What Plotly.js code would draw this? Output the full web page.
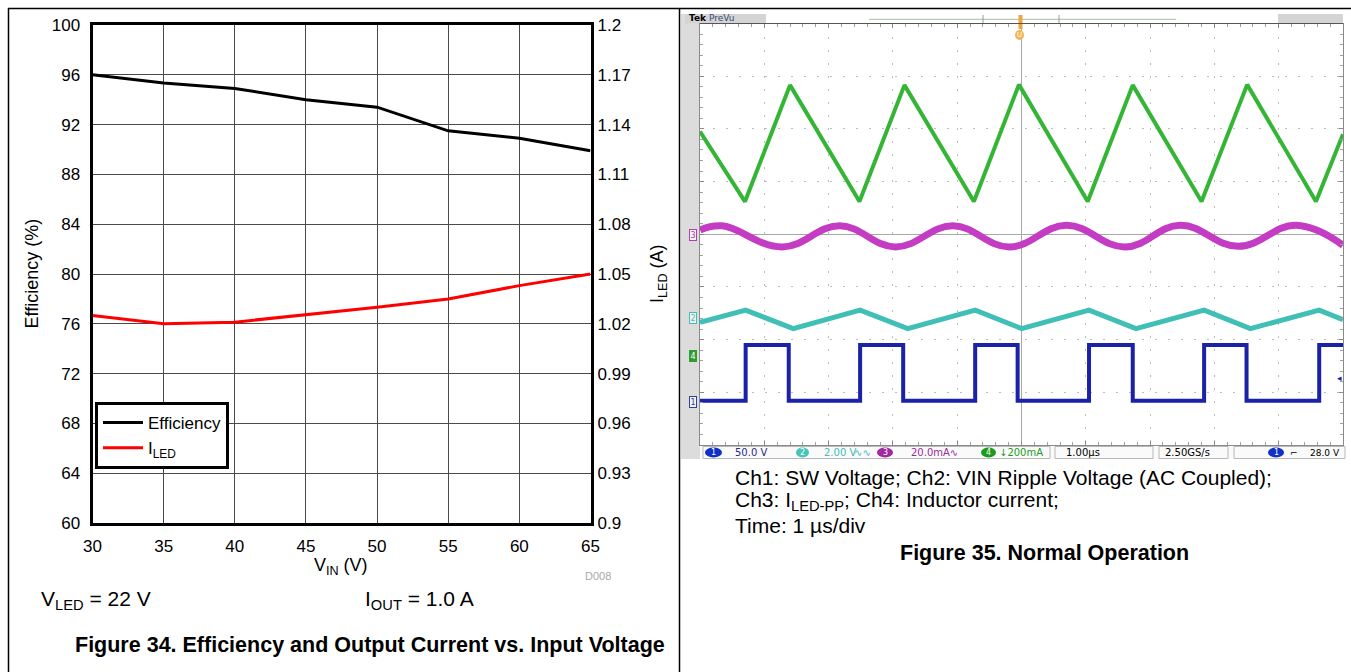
<!DOCTYPE html>
<html>
<head>
<meta charset="utf-8">
<script src="https://cdn.plot.ly/plotly-3.0.1.min.js"></script>
<style>html,body{margin:0;padding:0;background:#fff;}#chart{width:1351px;height:672px;}</style>
</head>
<body>
<div id="chart"></div>
<script>
// ---- Figure 34 data ----
const vin = [30, 35, 40, 45, 50, 55, 60, 65];
const efficiency = [96.0, 95.35, 94.9, 94.0, 93.4, 91.5, 90.9, 89.9];
const iledA = [1.025, 1.020, 1.021, 1.0255, 1.030, 1.035, 1.043, 1.050];
const iledTickVals = [0.9, 0.93, 0.96, 0.99, 1.02, 1.05, 1.08, 1.11, 1.14, 1.17, 1.2];
const iledTickLabels = ['0.9', '0.93', '0.96', '0.99', '1.02', '1.05', '1.08', '1.11', '1.14', '1.17', '1.2'];

// ---- Figure 35 scope data (time in µs, level in divisions) ----
const ch1Time = [-5.0, -4.29, -3.62, -2.51, -1.84, -0.72, -0.06, 1.05, 1.73, 2.84, 3.50, 4.63, 5.0];
const ch1Level = [-3.16, -2.10, -3.16, -2.10, -3.16, -2.10, -3.16, -2.10, -3.16, -2.10, -3.16, -2.10, -2.10];
const ch2Time = [-5.0, -4.29, -3.55, -2.51, -1.77, -0.72, 0.0, 1.05, 1.78, 2.84, 3.56, 4.63, 5.0];
const ch2Level = [-1.67, -1.44, -1.79, -1.44, -1.79, -1.44, -1.79, -1.44, -1.79, -1.44, -1.79, -1.44, -1.62];
const ch3Time = [-5.0, -4.66, -3.72, -2.83, -1.96, -1.07, -0.19, 0.70, 1.61, 2.47, 3.37, 4.27, 5.0];
const ch3Level = [0.08, 0.16, -0.24, 0.16, -0.24, 0.16, -0.24, 0.17, -0.24, 0.17, -0.23, 0.17, -0.21];
const ch4Time = [-5.0, -4.30, -3.60, -2.52, -1.82, -0.74, -0.04, 1.03, 1.73, 2.80, 3.51, 4.58, 5.0];
const ch4Level = [1.95, 0.62, 2.83, 0.62, 2.83, 0.62, 2.84, 0.62, 2.83, 0.62, 2.84, 0.62, 1.9];

const W = 1351, H = 672;
const px = x => x / W;
const py = y => 1 - y / H;
const SANS = 'Liberation Sans, Arial, sans-serif';
const SCOPE = 'DejaVu Sans, sans-serif';

const traces = [
  {x: vin, y: efficiency, name: 'Efficiency', mode: 'lines', xaxis: 'x', yaxis: 'y',
   line: {color: '#000000', width: 3}},
  {x: vin, y: iledA, name: 'I<sub>LED</sub>', mode: 'lines', xaxis: 'x', yaxis: 'y2',
   line: {color: '#ff0000', width: 3}},
  {x: ch4Time, y: ch4Level, mode: 'lines', xaxis: 'x3', yaxis: 'y3', showlegend: false,
   line: {color: '#35b535', width: 4}},
  {x: ch3Time, y: ch3Level, mode: 'lines', xaxis: 'x3', yaxis: 'y3', showlegend: false,
   line: {color: '#c43cc4', width: 7, shape: 'spline', smoothing: 1.2}},
  {x: ch2Time, y: ch2Level, mode: 'lines', xaxis: 'x3', yaxis: 'y3', showlegend: false,
   line: {color: '#3fbfb6', width: 5}},
  {x: ch1Time, y: ch1Level, mode: 'lines', xaxis: 'x3', yaxis: 'y3', showlegend: false,
   line: {color: '#1a22a8', width: 4, shape: 'hv'}}
];

const leftAxisCommon = {
  showgrid: true, gridcolor: '#4a4a4a', gridwidth: 1,
  showline: true, linecolor: '#000', linewidth: 3, mirror: true,
  ticks: '', zeroline: false, fixedrange: true,
  tickfont: {family: SANS, size: 17, color: '#000'}
};

const scopeCenterY = (py(445) + py(23.5)) / 2;
const scopeCenterX = (px(700) + px(1343)) / 2;

const layout = {
  width: W, height: H, autosize: false,
  margin: {l: 0, r: 0, t: 0, b: 0},
  paper_bgcolor: '#fff', plot_bgcolor: 'rgba(0,0,0,0)',
  font: {family: SANS, color: '#000'},
  showlegend: true,
  legend: {
    x: px(95), y: py(402), xanchor: 'left', yanchor: 'top',
    bgcolor: '#fff', bordercolor: '#000', borderwidth: 3,
    font: {family: SANS, size: 17, color: '#000'},
    itemwidth: 40, tracegroupgap: 0
  },
  xaxis: Object.assign({}, leftAxisCommon, {
    domain: [px(92.5), px(590.5)], range: [30, 65], dtick: 5, tick0: 30, anchor: 'y',
    ticklabelstandoff: 6
  }),
  yaxis: Object.assign({}, leftAxisCommon, {
    domain: [py(523), py(25)], range: [60, 100], dtick: 4, tick0: 60, anchor: 'x',
    ticklabelstandoff: 6
  }),
  yaxis2: {
    overlaying: 'y', side: 'right', anchor: 'x', range: [0.9, 1.2],
    tickmode: 'array', tickvals: iledTickVals, ticktext: iledTickLabels,
    showgrid: false, showline: false, zeroline: false, ticks: '', fixedrange: true,
    ticklabelstandoff: 6,
    tickfont: {family: SANS, size: 17, color: '#000'}
  },
  xaxis3: {
    domain: [px(700), px(1343)], range: [-5, 5], anchor: 'y3', dtick: 1, tick0: 0,
    showgrid: true, gridcolor: '#bdbdbd', griddash: '2px,11px', gridwidth: 1,
    zeroline: true, zerolinecolor: '#a8a8a8', zerolinewidth: 1,
    showline: true, linecolor: '#8a8a8a', linewidth: 1, mirror: 'allticks',
    ticks: 'inside', ticklen: 4, tickcolor: '#8a8a8a',
    minor: {dtick: 0.2, ticks: 'inside', ticklen: 3, tickcolor: '#a0a0a0'},
    showticklabels: false, fixedrange: true
  },
  yaxis3: {
    domain: [py(445), py(23.5)], range: [-4, 4], anchor: 'x3', dtick: 1, tick0: 0,
    showgrid: true, gridcolor: '#bdbdbd', griddash: '2px,11px', gridwidth: 1,
    zeroline: true, zerolinecolor: '#a8a8a8', zerolinewidth: 1,
    showline: true, linecolor: '#8a8a8a', linewidth: 1, mirror: 'allticks',
    ticks: 'inside', ticklen: 4, tickcolor: '#8a8a8a',
    minor: {dtick: 0.2, ticks: 'inside', ticklen: 3, tickcolor: '#a0a0a0'},
    showticklabels: false, fixedrange: true
  },
  xaxis4: {overlaying: 'x3', anchor: 'free', position: scopeCenterY, range: [-5, 5], dtick: 0.2, tick0: 0,
    showgrid: false, zeroline: false, showline: false, ticks: 'inside', ticklen: 3, tickcolor: '#a0a0a0', showticklabels: false, fixedrange: true},
  xaxis5: {overlaying: 'x3', anchor: 'free', position: scopeCenterY, range: [-5, 5], dtick: 0.2, tick0: 0,
    showgrid: false, zeroline: false, showline: false, ticks: 'outside', ticklen: 3, tickcolor: '#a0a0a0', showticklabels: false, fixedrange: true},
  yaxis4: {overlaying: 'y3', anchor: 'free', position: scopeCenterX, range: [-4, 4], dtick: 0.2, tick0: 0,
    showgrid: false, zeroline: false, showline: false, ticks: 'inside', ticklen: 3, tickcolor: '#a0a0a0', showticklabels: false, fixedrange: true},
  yaxis5: {overlaying: 'y3', anchor: 'free', position: scopeCenterX, range: [-4, 4], dtick: 0.2, tick0: 0,
    showgrid: false, zeroline: false, showline: false, ticks: 'outside', ticklen: 3, tickcolor: '#a0a0a0', showticklabels: false, fixedrange: true},
  shapes: [],
  annotations: []
};

const S = layout.shapes, A = layout.annotations;
function line(x0, y0, x1, y1, color, width) {
  S.push({type: 'line', xref: 'paper', yref: 'paper', x0: px(x0), y0: py(y0), x1: px(x1), y1: py(y1),
          line: {color: color, width: width}, layer: 'above'});
}
function rect(x0, y0, x1, y1, fill, lineColor, layer) {
  S.push({type: 'rect', xref: 'paper', yref: 'paper', x0: px(x0), y0: py(y0), x1: px(x1), y1: py(y1),
          fillcolor: fill, line: {color: lineColor || 'rgba(0,0,0,0)', width: lineColor ? 1 : 0}, layer: layer || 'below'});
}
function oval(x0, y0, x1, y1, fill) {
  S.push({type: 'circle', xref: 'paper', yref: 'paper', x0: px(x0), y0: py(y0), x1: px(x1), y1: py(y1),
          fillcolor: fill, line: {width: 0}, layer: 'above'});
}
function text(t, x, y, opts) {
  A.push(Object.assign({text: t, xref: 'paper', yref: 'paper', x: px(x), y: py(y), showarrow: false,
    xanchor: 'center', yanchor: 'middle', font: {family: SANS, size: 17, color: '#000'}}, opts || {}));
}

// page frame
line(8, 8.5, 1351, 8.5, '#000', 1.5);
line(8.5, 8, 8.5, 672, '#000', 1.5);
line(679.5, 8, 679.5, 672, '#000', 1.5);

// ---- Figure 34 texts ----
text('Efficiency (%)', 31.5, 274, {textangle: -90, font: {family: SANS, size: 18, color: '#000'}});
text('I<sub>LED</sub> (A)', 658, 274, {textangle: -90, font: {family: SANS, size: 18, color: '#000'}});
text('V<sub>IN</sub> (V)', 341, 566, {font: {family: SANS, size: 18, color: '#000'}});
text('D008', 598, 576, {font: {family: SANS, size: 11, color: '#a8a8a8'}});
text('V<sub>LED</sub> = 22 V', 39, 600, {xanchor: 'left', font: {family: SANS, size: 21, color: '#000'}});
text('I<sub>OUT</sub> = 1.0 A', 363, 600, {xanchor: 'left', font: {family: SANS, size: 21, color: '#000'}});
text('<b>Figure 34. Efficiency and Output Current vs. Input Voltage</b>', 370, 645, {font: {family: SANS, size: 21.5, color: '#000'}});

// ---- Figure 35 captions ----
const cap = {xanchor: 'left', font: {family: SANS, size: 21, color: '#000'}};
text('Ch1: SW Voltage; Ch2: VIN Ripple Voltage (AC Coupled);', 733, 477, cap);
text('Ch3: I<sub>LED-PP</sub>; Ch4: Inductor current;', 733, 501, cap);
text('Time: 1 µs/div', 733, 525, cap);
text('<b>Figure 35. Normal Operation</b>', 1044, 553, {font: {family: SANS, size: 21.5, color: '#000'}});

// ---- scope decorations ----
rect(681, 14, 700, 459, '#dcdcdc');
rect(685, 14, 766, 23.5, '#d4d4d4');
rect(1278, 14, 1343, 23, '#d4d4d4');
text('<b>Tek</b> <span style="color:#3a4a7a">PreVu</span>', 687, 18.5, {xanchor: 'left', font: {family: SCOPE, size: 9, color: '#000'}});
line(869, 19.3, 1176, 19.3, '#9cc49c', 1);
line(983, 15, 983, 23, '#9a9a9a', 1);
line(1059, 15, 1059, 23, '#9a9a9a', 1);
rect(1018.5, 15, 1022.5, 29, '#f0a73a', null, 'above');
oval(1015, 30, 1024, 40, '#f3b552');
text('U', 1019.5, 35, {font: {family: SCOPE, size: 7, color: '#fff'}});
line(700, 23.5, 1343, 23.5, '#555', 1.2);

// channel markers on left
function marker(t, y, color, filled) {
  text(t, 693, y, {font: {family: SCOPE, size: 8, color: filled ? '#fff' : color},
    bgcolor: filled ? color : '#f2f2f2', bordercolor: color, borderwidth: 1, borderpad: 0.5});
}
marker('3', 235, '#b040b0', false);
marker('2', 318, '#3fbfb6', false);
marker('4', 356, '#2e9e2e', true);
marker('1', 401.5, '#3040a0', false);
text('◂', 1339, 378, {font: {family: SCOPE, size: 9, color: '#1a22a8'}});

// status bar
rect(700, 446, 1345, 459, '#fafafa');
rect(703, 446.5, 1050, 458.5, 'rgba(0,0,0,0)', '#b8b8b8');
rect(1055, 446.5, 1153, 458.5, 'rgba(0,0,0,0)', '#b8b8b8');
rect(1159, 446.5, 1228, 458.5, 'rgba(0,0,0,0)', '#b8b8b8');
rect(1234, 446.5, 1345, 458.5, 'rgba(0,0,0,0)', '#b8b8b8');
function chip(t, x0, x1, color) {
  oval(x0, 447.5, x1, 457.5, color);
  text(t, (x0 + x1) / 2, 452.5, {font: {family: SCOPE, size: 8, color: '#fff'}});
}
const sb = c => ({xanchor: 'left', font: {family: SCOPE, size: 10, color: c}});
chip('1', 705, 722, '#1030c8');
text('50.0 V', 733, 452.5, sb('#2a2a8a'));
chip('2', 796, 809, '#46c4bc');
text('2.00 V', 822, 452.5, sb('#40bdb5'));
text('∿∿', 852, 452.5, sb('#40bdb5'));
chip('3', 877, 893, '#a02aa0');
text('20.0mA∿', 909, 452.5, sb('#9a2a9a'));
chip('4', 981, 996, '#1e9a1e');
text('↓200mA', 997, 452.5, sb('#1e9a1e'));
text('1.00µs', 1064, 452.5, sb('#000'));
text('2.50GS/s', 1163, 452.5, sb('#000'));
chip('1', 1268, 1284, '#1030c8');
text('⌐', 1294, 452.5, {font: {family: SCOPE, size: 9, color: '#000'}});
text('28.0 V', 1342, 452.5, {xanchor: 'right', font: {family: SCOPE, size: 9, color: '#000'}});

Plotly.newPlot('chart', traces, layout, {displayModeBar: false, staticPlot: true});
</script>
</body>
</html>
